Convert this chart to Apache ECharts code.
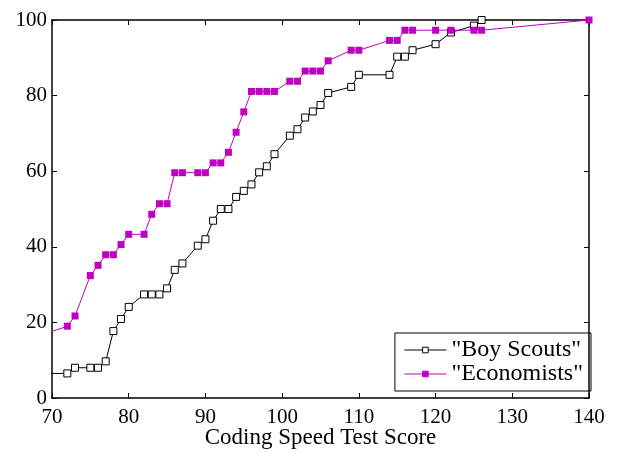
<!DOCTYPE html>
<html>
<head>
<meta charset="utf-8">
<script src="https://cdn.jsdelivr.net/npm/echarts@6/dist/echarts.min.js"></script>
<style>html,body{margin:0;padding:0;background:#fff;}#c{width:621px;height:453px;}</style>
</head>
<body>
<div id="c"></div>
<script>
// Boy Scouts: [score, cumulative percent]
var boyScoutsX = [68, 72, 73, 75, 76, 77, 78, 79, 80, 82, 83, 84, 85, 86, 87, 89, 90, 91, 92, 93, 94, 95, 96, 97, 98, 99, 101, 102, 103, 104, 105, 106, 109, 110, 114, 115, 116, 117, 120, 122, 125, 126];
var boyScoutsY = [6.5, 6.5, 8.0, 8.0, 8.0, 9.7, 17.7, 20.9, 24.1, 27.4, 27.4, 27.4, 29.0, 33.9, 35.6, 40.3, 42.0, 46.9, 50.0, 50.0, 53.2, 54.8, 56.5, 59.7, 61.3, 64.5, 69.4, 71.1, 74.2, 75.8, 77.5, 80.7, 82.3, 85.5, 85.5, 90.3, 90.3, 92.0, 93.6, 96.7, 98.5, 100];
// Economists
var economistsX = [68, 72, 73, 75, 76, 77, 78, 79, 80, 82, 83, 84, 85, 86, 87, 89, 90, 91, 92, 93, 94, 95, 96, 97, 98, 99, 101, 102, 103, 104, 105, 106, 109, 110, 114, 115, 116, 117, 120, 122, 125, 126, 140];
var economistsY = [16.2, 19.0, 21.7, 32.4, 35.1, 37.9, 37.9, 40.6, 43.3, 43.3, 48.6, 51.4, 51.4, 59.6, 59.6, 59.6, 59.6, 62.2, 62.2, 65.0, 70.3, 75.7, 81.1, 81.1, 81.1, 81.1, 83.8, 83.8, 86.5, 86.5, 86.5, 89.2, 92.0, 92.0, 94.6, 94.6, 97.3, 97.3, 97.3, 97.3, 97.3, 97.3, 100];
var xTicks = {min: 70, max: 140, interval: 10};
var yTicks = {min: 0, max: 100, interval: 20};
var xTitle = 'Coding Speed Test Score';
var names = ['"Boy Scouts"', '"Economists"'];

function pairs(xs, ys) { return xs.map(function (x, i) { return [x, ys[i]]; }); }

var font = 'Liberation Serif';
var axisBase = {
  axisLine: {show: true, onZero: false, lineStyle: {color: '#000', width: 1.5}},
  axisTick: {show: true, inside: true, length: 5, lineStyle: {color: '#000', width: 1}},
  splitLine: {show: false}
};
function mk(extra) { return Object.assign({}, JSON.parse(JSON.stringify(axisBase)), extra); }

var chart = echarts.init(document.getElementById('c'), null, {renderer: 'canvas'});
chart.setOption({
  animation: false,
  backgroundColor: '#fff',
  grid: {left: 52, right: 32, top: 20, bottom: 55, containLabel: false, outerBoundsMode: 'none'},
  xAxis: [
    mk({type: 'value', position: 'bottom', min: xTicks.min, max: xTicks.max, interval: xTicks.interval,
      name: xTitle, nameLocation: 'middle', nameGap: 28, nameMoveOverlap: false,
      nameTextStyle: {color: '#000', fontFamily: font, fontSize: 23},
      axisLabel: {color: '#000', fontFamily: font, fontSize: 21, margin: 9}}),
    mk({type: 'value', position: 'top', min: xTicks.min, max: xTicks.max, interval: xTicks.interval,
      axisLabel: {show: false}})
  ],
  yAxis: [
    mk({type: 'value', position: 'left', min: yTicks.min, max: yTicks.max, interval: yTicks.interval,
      axisLabel: {color: '#000', fontFamily: font, fontSize: 21, margin: 5}}),
    mk({type: 'value', position: 'right', min: yTicks.min, max: yTicks.max, interval: yTicks.interval,
      axisLabel: {show: false}})
  ],
  legend: {
    show: true, orient: 'vertical', right: 30, top: 333,
    padding: [5, 8, 5, 9], itemGap: 0, itemWidth: 42, itemHeight: 7,
    borderColor: '#000', borderWidth: 1, borderRadius: 0,
    lineStyle: {width: 1},
    itemStyle: {borderWidth: 1},
    textStyle: {color: '#000', fontFamily: font, fontSize: 24, lineHeight: 23},
    data: names
  },
  series: [
    {name: names[0], type: 'line', xAxisIndex: 0, yAxisIndex: 0, clip: true,
      data: pairs(boyScoutsX, boyScoutsY),
      symbol: 'rect', symbolSize: 7, showAllSymbol: true,
      lineStyle: {color: '#000', width: 1},
      itemStyle: {color: '#fff', borderColor: '#000', borderWidth: 1}},
    {name: names[1], type: 'line', xAxisIndex: 0, yAxisIndex: 0, clip: true,
      data: pairs(economistsX, economistsY),
      symbol: 'rect', symbolSize: 7, showAllSymbol: true,
      lineStyle: {color: '#c000c0', width: 1},
      itemStyle: {color: '#c000c0', borderColor: '#c000c0', borderWidth: 0}}
  ]
});
</script>
</body>
</html>
